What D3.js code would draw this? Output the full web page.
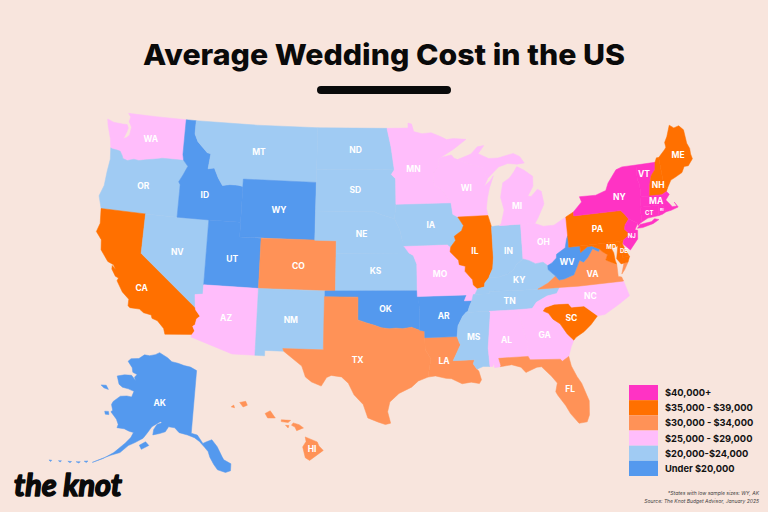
<!DOCTYPE html>
<html>
<head>
<meta charset="utf-8">
<style>
	body { margin: 0; background: #f8e5dd; }
	text { font-family: Inter, sans-serif; }
	.state-label { fill: white; font-weight: 700; text-anchor: middle; dominant-baseline: central; }
	.legend-label { fill: #111; font-weight: 700; font-size: 9.3px; dominant-baseline: central; }
	.note { fill: #444; font-style: italic; font-size: 5px; text-anchor: end; }
</style>
<script src="https://d3js.org/d3.v7.min.js"></script>
</head>
<body>
<script>
// cost tiers, highest first
const tierLabels = ["$40,000+", "$35,000 - $39,000", "$30,000 - $34,000", "$25,000 - $29,000", "$20,000-$24,000", "Under $20,000"];
const tierColors = ["#ff33c4", "#ff7000", "#ff9257", "#ffbdfb", "#a0cbf3", "#5499ee"];
const tier0 = ["NY", "VT", "MA", "CT", "RI", "NJ"];
const tier1 = ["CA", "IL", "PA", "MD", "DE", "SC", "NH", "ME"];
const tier2 = ["CO", "TX", "LA", "FL", "VA", "HI"];
const tier3 = ["WA", "AZ", "MN", "WI", "MI", "OH", "MO", "NC", "GA", "AL"];
const tier4 = ["OR", "NV", "MT", "ND", "SD", "NE", "KS", "IA", "NM", "IN", "KY", "TN", "MS"];
const tier5 = ["ID", "WY", "UT", "OK", "AR", "WV", "AK"];

// state outlines, lon/lat
const WA = [[[-117.04,49],[-120,49],[-122.76,49],[-122.5,48.75],[-122.6,48.4],[-122.3,48],[-122.4,47.4],[-122.65,47.2],[-122.95,47.1],[-122.7,47.6],[-122.6,47.9],[-122.75,48.15],[-123.2,48.15],[-124.1,48.2],[-124.72,48.38],[-124.6,47.9],[-124.2,46.95],[-124.05,46.3],[-123.9,46.25],[-123.4,46.2],[-123.1,46.15],[-122.85,45.85],[-122.75,45.65],[-122.3,45.55],[-121.7,45.7],[-121.2,45.65],[-120.6,45.75],[-119.9,45.85],[-119.3,45.93],[-119,46],[-116.92,46],[-117.04,46.42]]];
const OR = [[[-124.05,46.3],[-123.9,46.25],[-123.4,46.2],[-123.1,46.15],[-122.85,45.85],[-122.75,45.65],[-122.3,45.55],[-121.7,45.7],[-121.2,45.65],[-120.6,45.75],[-119.9,45.85],[-119.3,45.93],[-119,46],[-116.92,46],[-116.46,45.6],[-116.85,44.95],[-117.2,44.45],[-117.03,44.25],[-117.03,43.8],[-117.03,42],[-120,42],[-124.2,42],[-124.55,42.84],[-124.2,43.6],[-124.1,44.6],[-123.95,45.5]]];
const CA = [[[-124.2,42],[-120,42],[-120,39],[-114.63,35],[-114.57,34.8],[-114.14,34.3],[-114.43,34.05],[-114.52,33.55],[-114.72,33.4],[-114.52,33.03],[-114.72,32.72],[-117.12,32.53],[-117.28,33],[-117.9,33.6],[-118.4,33.75],[-118.5,34.03],[-119.2,34.15],[-119.6,34.42],[-120.47,34.45],[-120.65,34.6],[-120.65,35.15],[-121.3,35.7],[-121.9,36.6],[-121.8,36.85],[-122.1,36.97],[-122.5,37.5],[-122.5,37.78],[-122.15,37.5],[-122.4,37.85],[-122.95,38.05],[-123.7,38.9],[-123.8,39.7],[-124.35,40.3],[-124.1,41]]];
const NV = [[[-120,42],[-117.03,42],[-114.04,42],[-114.04,36.2],[-114.75,36.1],[-114.63,35],[-120,39]]];
const ID = [[[-117.04,49],[-116.05,49],[-116.05,48],[-115.7,47.45],[-114.7,46.7],[-114.35,46.65],[-114.5,45.55],[-113.9,45.65],[-113.45,44.95],[-113,44.45],[-112.3,44.55],[-111.5,44.55],[-111.05,44.48],[-111.05,42],[-114.04,42],[-117.03,42],[-117.03,43.8],[-117.03,44.25],[-117.2,44.45],[-116.85,44.95],[-116.46,45.6],[-116.92,46],[-117.04,46.42]]];
const MT = [[[-116.05,49],[-110,49],[-104.05,49],[-104.05,45],[-111.05,45],[-111.05,44.48],[-111.5,44.55],[-112.3,44.55],[-113,44.45],[-113.45,44.95],[-113.9,45.65],[-114.5,45.55],[-114.35,46.65],[-114.7,46.7],[-115.7,47.45],[-116.05,48]]];
const WY = [[[-111.05,45],[-104.05,45],[-104.05,41],[-111.05,41]]];
const UT = [[[-114.04,42],[-111.05,42],[-111.05,41],[-109.05,41],[-109.05,37],[-114.04,37]]];
const CO = [[[-109.05,41],[-102.05,41],[-102.05,37],[-109.05,37]]];
const AZ = [[[-114.04,37],[-109.05,37],[-109.05,31.33],[-111.07,31.33],[-114.8,32.5],[-114.72,32.72],[-114.52,33.03],[-114.72,33.4],[-114.52,33.55],[-114.43,34.05],[-114.14,34.3],[-114.57,34.8],[-114.63,35],[-114.75,36.1],[-114.04,36.2]]];
const NM = [[[-109.05,37],[-103,37],[-103.04,32],[-106.62,32],[-106.53,31.78],[-108.2,31.78],[-108.2,31.33],[-109.05,31.33]]];
const ND = [[[-104.05,49],[-97.23,49],[-96.85,47.6],[-96.56,45.94],[-104.05,45.94]]];
const SD = [[[-104.05,45.94],[-96.56,45.94],[-96.85,45.6],[-96.45,45.3],[-96.45,43.5],[-96.6,42.5],[-97.9,42.8],[-98.5,43],[-104.05,43]]];
const NE = [[[-104.05,43],[-98.5,43],[-97.9,42.8],[-96.6,42.5],[-96.1,41.7],[-95.9,41],[-95.3,40],[-102.05,40],[-102.05,41],[-104.05,41]]];
const KS = [[[-102.05,40],[-95.3,40],[-94.9,39.8],[-94.6,39.1],[-94.62,37],[-102.05,37]]];
const OK = [[[-103,37],[-94.62,37],[-94.43,35.4],[-94.48,33.64],[-95.2,33.9],[-96,33.8],[-96.6,33.85],[-97.2,33.8],[-97.9,33.9],[-98.5,34.1],[-99.2,34.3],[-100,34.56],[-100,36.5],[-103,36.5]]];
const TX = [[[-103.04,36.5],[-100,36.5],[-100,34.56],[-99.2,34.3],[-98.5,34.1],[-97.9,33.9],[-97.2,33.8],[-96.6,33.85],[-96,33.8],[-95.2,33.9],[-94.48,33.64],[-94.04,33.55],[-94.04,33],[-94.04,32],[-93.55,31.2],[-93.7,30.5],[-93.85,29.7],[-94.7,29.4],[-95.3,28.9],[-96.4,28.4],[-97.2,27.7],[-97.4,26.9],[-97.15,25.96],[-97.6,25.85],[-98.2,26.05],[-99.1,26.4],[-99.5,27.5],[-100.3,28.3],[-100.8,29.25],[-101.4,29.77],[-102.3,29.88],[-102.7,29.7],[-103.15,28.98],[-104,29.3],[-104.55,29.7],[-104.9,30.6],[-106.53,31.78],[-106.62,32],[-103.04,32]]];
const LA = [[[-94.04,33],[-91.17,33],[-91,32.5],[-90.9,32.3],[-91.6,31],[-89.73,31],[-89.85,30.65],[-89.55,30.2],[-89.4,30.05],[-89.2,29.3],[-89.4,29],[-90.1,29.15],[-90.9,29.05],[-91.8,29.5],[-92.3,29.55],[-93.2,29.78],[-93.85,29.7],[-93.7,30.5],[-93.55,31.2],[-94.04,32]]];
const AR = [[[-94.62,36.5],[-90.15,36.5],[-90.38,36],[-89.7,36],[-89.95,35.5],[-90.1,35.1],[-90.6,34.7],[-91.05,33.9],[-91.17,33],[-94.04,33],[-94.04,33.55],[-94.48,33.64],[-94.43,35.4]]];
const MO = [[[-95.77,40.58],[-91.73,40.61],[-91.42,40.38],[-91.5,40],[-90.75,39.3],[-90.7,38.95],[-90.15,38.8],[-90.2,38.4],[-89.55,37.7],[-89.5,37.3],[-89.13,36.98],[-89.4,36.5],[-89.55,36.5],[-89.7,36],[-90.38,36],[-90.15,36.5],[-94.62,36.5],[-94.62,37],[-94.6,39.1],[-94.9,39.8],[-95.3,40]]];
const IA = [[[-96.45,43.5],[-91.22,43.5],[-91.1,42.7],[-90.64,42.5],[-90.15,41.9],[-90.35,41.55],[-91.05,41.2],[-90.95,40.9],[-91.42,40.38],[-91.73,40.61],[-95.77,40.58],[-95.9,41],[-96.1,41.7],[-96.6,42.5]]];
const MN = [[[-97.23,49],[-95.15,49],[-95.15,49.38],[-94.8,49.3],[-94.6,48.72],[-93.8,48.55],[-92.9,48.6],[-92,48.3],[-91.4,48.05],[-90.75,48.1],[-89.5,48],[-90.8,47.3],[-92.05,46.75],[-92.3,46.65],[-92.3,46.1],[-92.85,45.6],[-92.75,44.75],[-92,44.4],[-91.22,43.5],[-96.45,43.5],[-96.45,45.3],[-96.85,45.6],[-96.56,45.94],[-96.85,47.6]]];
const WI = [[[-92.05,46.75],[-91,46.9],[-90.75,46.65],[-90.4,46.55],[-89.1,46.13],[-88.1,45.9],[-87.8,45.35],[-87.6,45.1],[-87.98,44.55],[-87.4,44.9],[-87.05,45.25],[-87.5,44.4],[-87.75,43.7],[-87.9,43],[-87.8,42.5],[-90.64,42.5],[-91.1,42.7],[-91.22,43.5],[-92,44.4],[-92.75,44.75],[-92.85,45.6],[-92.3,46.1],[-92.3,46.65]]];
const IL = [[[-90.64,42.5],[-87.8,42.5],[-87.53,41.72],[-87.53,39.35],[-87.65,38.5],[-87.95,38],[-88.05,37.8],[-88.45,37.4],[-88.5,37.1],[-89.13,36.98],[-89.5,37.3],[-89.55,37.7],[-90.2,38.4],[-90.15,38.8],[-90.7,38.95],[-90.75,39.3],[-91.5,40],[-91.42,40.38],[-90.95,40.9],[-91.05,41.2],[-90.35,41.55],[-90.15,41.9]]];
const IN = [[[-87.53,41.72],[-87.2,41.75],[-86.8,41.76],[-84.8,41.76],[-84.82,39.1],[-85.45,38.7],[-85.75,38.3],[-86.3,38],[-87.1,37.8],[-88.05,37.8],[-87.95,38],[-87.65,38.5],[-87.53,39.35]]];
const OH = [[[-84.8,41.76],[-83.45,41.73],[-82.7,41.5],[-81.7,41.5],[-80.52,41.98],[-80.52,40.64],[-80.65,40.4],[-80.85,39.7],[-81.7,39.25],[-81.75,38.95],[-82.2,38.6],[-82.6,38.42],[-83,38.72],[-83.7,38.65],[-84.3,38.95],[-84.82,39.1]]];
const KY = [[[-89.4,36.5],[-89.13,36.98],[-88.5,37.1],[-88.45,37.4],[-88.05,37.8],[-87.1,37.8],[-86.3,38],[-85.75,38.3],[-85.45,38.7],[-84.82,39.1],[-84.3,38.95],[-83.7,38.65],[-83,38.72],[-82.6,38.42],[-82.6,38.1],[-81.97,37.54],[-82.7,37.05],[-83.68,36.6],[-86,36.63],[-88.07,36.68],[-88.07,36.5]]];
const TN = [[[-89.55,36.5],[-88.07,36.5],[-88.07,36.68],[-86,36.63],[-83.68,36.6],[-81.68,36.59],[-82,36.1],[-82.9,35.95],[-83.9,35.5],[-84.32,34.99],[-85.6,34.98],[-88.2,35],[-90.3,35],[-90.1,35.1],[-89.95,35.5],[-89.7,36]]];
const MS = [[[-90.3,35],[-88.2,35],[-88.1,34.9],[-88.47,31.9],[-88.4,30.37],[-89,30.4],[-89.55,30.2],[-89.85,30.65],[-89.73,31],[-91.6,31],[-90.9,32.3],[-91,32.5],[-91.17,33],[-91.05,33.9],[-90.6,34.7]]];
const AL = [[[-88.2,35],[-85.6,34.98],[-85.18,32.87],[-85,32.3],[-85.05,31.55],[-85,31],[-87.6,31],[-87.45,30.4],[-87.5,30.3],[-88,30.25],[-88.05,30.65],[-88.15,30.35],[-88.4,30.37],[-88.47,31.9],[-88.1,34.9]]];
const GA = [[[-85.6,34.98],[-83.1,35],[-83.35,34.7],[-82.9,34.47],[-82.55,33.95],[-81.95,33.5],[-81.4,32.6],[-80.87,32.03],[-81.15,31.5],[-81.45,30.72],[-82.05,30.36],[-82.2,30.55],[-84.86,30.7],[-85,31],[-85.05,31.55],[-85,32.3],[-85.18,32.87]]];
const FL = [[[-87.6,31],[-85,31],[-84.86,30.7],[-82.2,30.55],[-82.05,30.36],[-81.45,30.72],[-81.3,29.9],[-80.9,29],[-80.55,28.4],[-80.05,26.9],[-80.15,25.75],[-80.4,25.2],[-81.1,25.15],[-81.75,26],[-82.1,26.7],[-82.7,27.6],[-82.85,27.9],[-82.65,28.6],[-83.1,29.2],[-83.9,30.05],[-84.3,30.05],[-85.3,29.68],[-85.7,30.15],[-86.5,30.4],[-87.5,30.3],[-87.45,30.4]]];
const SC = [[[-83.1,35],[-82.3,35.2],[-81.05,35.15],[-80.8,34.82],[-79.67,34.8],[-78.55,33.87],[-79.2,33.2],[-79.9,32.65],[-80.65,32.25],[-80.87,32.03],[-81.4,32.6],[-81.95,33.5],[-82.55,33.95],[-82.9,34.47],[-83.35,34.7]]];
const NC = [[[-84.32,34.99],[-83.9,35.5],[-82.9,35.95],[-82,36.1],[-81.68,36.59],[-80,36.54],[-76,36.55],[-75.87,36.55],[-75.5,35.25],[-76.5,34.65],[-77.9,33.9],[-78.55,33.87],[-79.67,34.8],[-80.8,34.82],[-81.05,35.15],[-82.3,35.2],[-83.1,35]]];
const VA = [[[-83.68,36.6],[-82.7,37.05],[-81.97,37.54],[-81.68,37.2],[-81.2,37.25],[-80.3,37.5],[-80,38],[-79.65,38.6],[-79.3,38.42],[-78.87,38.76],[-78.35,39.4],[-77.83,39.14],[-77.72,39.32],[-77.5,39.1],[-77.04,38.8],[-77.25,38.4],[-76.95,38.25],[-76.3,37.9],[-76.3,37],[-76,36.92],[-75.87,36.55],[-76,36.55],[-80,36.54],[-81.68,36.59]], [[-75.95,37.15],[-75.65,37.95],[-75.25,38.03],[-75.65,37.45]]];
const WV = [[[-82.6,38.42],[-82.2,38.6],[-81.75,38.95],[-81.7,39.25],[-80.85,39.7],[-80.65,40.4],[-80.52,40.64],[-80.52,39.72],[-79.48,39.72],[-79.48,39.2],[-78.8,39.6],[-78.4,39.62],[-77.72,39.32],[-77.83,39.14],[-78.35,39.4],[-78.87,38.76],[-79.3,38.42],[-79.65,38.6],[-80,38],[-80.3,37.5],[-81.2,37.25],[-81.68,37.2],[-81.97,37.54],[-82.6,38.1]]];
const MD = [[[-79.48,39.72],[-75.79,39.72],[-75.7,38.46],[-75.05,38.45],[-75.25,38.03],[-75.9,37.95],[-76.25,38.4],[-76,39.4],[-76.6,39.2],[-76.45,38.9],[-76.4,38.3],[-76.3,37.95],[-76.95,38.25],[-77.25,38.4],[-77.04,38.8],[-77.5,39.1],[-77.72,39.32],[-78.4,39.62],[-78.8,39.6],[-79.48,39.2]]];
const DE = [[[-75.79,39.72],[-75.42,39.8],[-75.55,39.5],[-75.4,39.1],[-75.05,38.45],[-75.7,38.46]]];
const PA = [[[-80.52,41.98],[-79.76,42.27],[-79.76,42],[-75.35,42],[-75.05,41.75],[-74.7,41.36],[-75.1,41],[-75.2,40.65],[-74.75,40.2],[-75.42,39.8],[-75.79,39.72],[-80.52,39.72]]];
const NJ = [[[-74.7,41.36],[-73.9,41],[-74.25,40.5],[-74,40.45],[-74.1,39.75],[-74.9,38.95],[-75.5,39.5],[-75.42,39.8],[-74.75,40.2],[-75.2,40.65],[-75.1,41]]];
const NY = [[[-79.76,42.27],[-78.9,42.9],[-79.05,43.27],[-77.5,43.25],[-76.5,43.5],[-76.2,44],[-75.3,44.85],[-74.7,45],[-73.35,45],[-73.4,44],[-73.25,43.6],[-73.27,42.75],[-73.5,42.05],[-73.49,41.2],[-73.65,41],[-73.9,40.8],[-73.9,41],[-74.7,41.36],[-75.05,41.75],[-75.35,42],[-79.76,42]], [[-74,40.6],[-73.7,40.88],[-72.6,40.98],[-72.3,41.15],[-71.9,41.05],[-72.5,40.8],[-73.5,40.6]]];
const VT = [[[-73.35,45],[-71.5,45],[-71.6,44.5],[-72.05,44.1],[-72.3,43.5],[-72.46,42.73],[-73.27,42.75],[-73.25,43.6],[-73.4,44]]];
const NH = [[[-71.5,45],[-71.3,45.3],[-71.08,45.3],[-70.98,43.4],[-70.7,43.07],[-70.82,42.87],[-71.3,42.7],[-72.46,42.73],[-72.3,43.5],[-72.05,44.1],[-71.6,44.5]]];
const ME = [[[-71.08,45.3],[-70.4,45.8],[-70.25,45.95],[-70.3,46.3],[-70,46.7],[-69.6,47.5],[-69.2,47.25],[-68.7,47.35],[-68.3,47],[-68.2,46],[-68,45.6],[-68,45.2],[-67.9,44.85],[-68.4,44.4],[-68.8,44.4],[-69.1,44],[-69.8,43.75],[-70.25,43.6],[-70.7,43.07],[-70.98,43.4]]];
const MA = [[[-73.5,42.05],[-73.27,42.75],[-72.46,42.73],[-71.3,42.7],[-70.82,42.87],[-70.6,42.65],[-71,42.3],[-70.65,41.95],[-70.5,41.78],[-70.05,41.78],[-70.25,42.07],[-69.95,41.7],[-70.65,41.55],[-71.13,41.5],[-71.38,42.02],[-71.8,42.02]]];
const CT = [[[-73.5,42.05],[-71.8,42.02],[-71.85,41.32],[-72.9,41.25],[-73.65,41],[-73.49,41.2]]];
const RI = [[[-71.8,42.02],[-71.38,42.02],[-71.13,41.5],[-71.5,41.37],[-71.85,41.32]]];
const MI = [[[-86.8,41.76],[-84.8,41.76],[-83.45,41.73],[-83.15,42.05],[-82.45,43],[-82.6,43.9],[-82.95,44.07],[-83.6,43.6],[-83.9,43.65],[-83.35,44.3],[-83.3,45],[-84.1,45.5],[-84.75,45.78],[-85.1,45.4],[-85.55,45],[-86.2,44.7],[-86.5,43.7],[-86.25,42.8],[-86.6,41.9]], [[-90.4,46.55],[-89.1,46.9],[-88.45,47.4],[-87.8,47.47],[-88.4,46.9],[-87.4,46.5],[-86.5,46.5],[-85,46.75],[-84.4,46.5],[-84,46],[-84.7,45.95],[-85.6,46.05],[-86.5,45.85],[-87.6,45.1],[-87.8,45.35],[-88.1,45.9],[-89.1,46.13]]];
const AK = [[[-141,69.65],[-143.5,70.1],[-146,70.2],[-148.5,70.4],[-151,70.45],[-153,70.9],[-156.6,71.35],[-158,70.85],[-160,70.4],[-162,70.25],[-163.5,69.4],[-166.2,68.9],[-166.8,68.35],[-164.5,67.7],[-163.7,67.1],[-162,67],[-162.5,66.5],[-161.8,66.1],[-163.7,66.6],[-166,66.25],[-168.1,65.65],[-166.4,64.65],[-165,64.45],[-163,64.55],[-161,64.5],[-161.1,63.6],[-162.6,63.5],[-164.5,63.1],[-165.9,62],[-166,61.5],[-165,60.8],[-165.3,60.5],[-163,59.8],[-162,59.2],[-162,58.7],[-160,58.9],[-158.5,58.8],[-157.2,58.8],[-157.5,58],[-158.5,57],[-160.5,55.2],[-162.5,53.9],[-164.6,52.8],[-163,53.7],[-161,54.7],[-159,55.5],[-157.5,56.8],[-156,57.5],[-154.2,58.4],[-153.5,59.2],[-152.6,60.3],[-150.5,61.3],[-149.9,61.2],[-151.3,60.8],[-151.9,60],[-151.8,59.2],[-150,59.6],[-148.5,60],[-147.8,60.8],[-146,60.8],[-144.5,60.2],[-142,60],[-140,59.7],[-138.5,59.2],[-137,58.4],[-136,57.8],[-135.5,57],[-134.5,56],[-133.5,55.2],[-131.5,54.8],[-130.2,55],[-130,56],[-131.8,56.6],[-132.2,57],[-133.5,58.5],[-135,59.5],[-136.5,59.2],[-137.5,58.95],[-139.2,60.1],[-141,60.3]],
	[[-153.3,58],[-152.2,57.6],[-153.9,56.8],[-154.7,57.3]], [[-171.5,63.4],[-170,63.7],[-168.8,63.3],[-170.3,63.2]], [[-167,60.2],[-166,60.4],[-165.5,60],[-166.5,59.85]],
	[[-166.5,52.5],[-165.7,52.75],[-165.9,52.45]], [[-168.2,51.95],[-167.3,52.2],[-167.5,51.95]], [[-170,51.5],[-169.2,51.7],[-169.4,51.45]], [[-172,50.95],[-171.4,51.15],[-171.5,50.9]], [[-174,50.4],[-173.4,50.55],[-173.5,50.3]]];
const HI = [[[-155.9,20.25],[-155.2,19.97],[-155.1,19.75],[-154.85,19.5],[-155.65,18.95],[-155.9,19.1],[-156.05,19.7],[-155.85,20]], [[-156.7,20.9],[-156.6,21.03],[-156.25,20.93],[-156,20.75],[-156.4,20.6],[-156.5,20.8]], [[-158.25,21.55],[-157.95,21.7],[-157.65,21.3],[-158.1,21.3]], [[-157.3,21.2],[-156.75,21.17],[-156.9,21.05],[-157.3,21.1]], [[-157.05,20.9],[-156.85,20.88],[-156.9,20.75]], [[-159.75,22.15],[-159.4,22.22],[-159.3,22],[-159.55,21.9]], [[-160.25,21.9],[-160.1,22],[-160.05,21.85]]];

const shapes = {WA, OR, CA, NV, ID, MT, WY, UT, CO, AZ, NM, ND, SD, NE, KS, OK, TX, LA, AR, MO, IA, MN, WI, IL, IN, OH, KY, TN, MS, AL, GA, FL, SC, NC, VA, WV, MD, DE, PA, NJ, NY, VT, NH, ME, MA, CT, RI, MI, AK, HI};

// where each abbreviation sits, lon/lat
const labelSpots = {WA:[-120.3,47.3], OR:[-120.5,43.9], CA:[-119.6,36.2], NV:[-116.7,39.4], ID:[-114.6,43.7], MT:[-109.7,47], WY:[-107.5,43], UT:[-111.6,39.2], CO:[-105.5,38.9], AZ:[-111.8,34.3], NM:[-106,34.4], ND:[-100.3,47.4], SD:[-100.3,44.5], NE:[-99.7,41.5], KS:[-98.4,38.6], OK:[-97.5,35.5], TX:[-100,31.2], LA:[-92.4,31], AR:[-92.3,34.8], MO:[-92.5,38.3], IA:[-93.2,42], MN:[-94.7,46], WI:[-89.7,44.5], IL:[-89.2,40], IN:[-86.1,39.8], OH:[-82.8,40.3], KY:[-85.3,37.5], TN:[-86.3,35.8], MS:[-89.7,32.9], AL:[-86.8,32.5], GA:[-83.4,32.7], FL:[-81.6,28], SC:[-80.9,33.9], NC:[-79,35.6], VA:[-78.6,37.4], WV:[-80.8,38.6], MD:[-76.6,39.45], DE:[-75.5,38.95], PA:[-77.7,40.9], NJ:[-74.6,40.1], NY:[-75.3,42.9], VT:[-72.7,44.3], NH:[-71.5,43.4], ME:[-69.2,45.3], MA:[-71.9,42.35], CT:[-72.7,41.6], RI:[-71.5,41.7], MI:[-85,43], AK:[-152,64], HI:[-155.5,19.6]};
const smallLabels = ["MD", "DE", "NJ", "CT"];
const tinyLabels = ["RI"];

const titleText = "Average Wedding Cost in the US";
const noteLines = ["*States with low sample sizes: WY, AK", "Source: The Knot Budget Advisor, January 2025"];

var width = 768, height = 512;
var svg = d3.select("body").append("svg").attr("width", width).attr("height", height);
svg.append("rect").attr("width", width).attr("height", height).attr("fill", "#f8e5dd");

var color = {};
[tier0, tier1, tier2, tier3, tier4, tier5].forEach(function(t, i) {
	t.forEach(function(s) { color[s] = tierColors[i]; });
});

// low parallels: the source map's meridians lean much less than plain albers
var lower48 = d3.geoConicEqualArea().parallels([6, 30]).rotate([99, 0]).center([0, 39]).scale(760).translate([369, 266]);
// the source stretches the north and squeezes the south
var latWarp = d3.scaleLinear().domain([25.85, 37, 41, 49]).range([26.85, 37, 41, 50.6]);
var alaska = d3.geoConicEqualArea().parallels([40, 60]).rotate([134.5, 0]).center([0, 65]).scale(398).translate([213.6, 402]);
var hawaii = d3.geoConicEqualArea().parallels([8, 18]).rotate([157, 0]).center([-3, 19.9]).scale(1040).translate([235, 443]);

function project(state, p) {
	if (state == "AK") return alaska(p);
	if (state == "HI") return hawaii(p);
	return lower48([p[0], latWarp(p[1])]);
}
var line = d3.line();

svg.append("g").selectAll("path")
	.data(Object.keys(shapes))
	.enter()
	.append("path")
	.attr("d", function(s) {
		return shapes[s].map(function(ring) {
			return line(ring.map(function(p) { return project(s, p); })) + "Z";
		}).join("");
	})
	.attr("fill", function(s) { return color[s]; })
	.attr("stroke", function(s) { return color[s]; })
	.attr("stroke-width", 0.5)
	.attr("stroke-linejoin", "round");

svg.append("g").selectAll("text")
	.data(Object.keys(labelSpots))
	.enter()
	.append("text")
	.attr("class", "state-label")
	.attr("x", function(s) { return project(s, labelSpots[s])[0]; })
	.attr("y", function(s) { return project(s, labelSpots[s])[1]; })
	.attr("font-size", function(s) { return tinyLabels.includes(s) ? 4 : smallLabels.includes(s) ? 6 : 8.5; })
	.text(function(s) { return s; });

// title and rule
svg.append("text")
	.attr("x", 384).attr("y", 65)
	.attr("text-anchor", "middle")
	.attr("font-size", 29).attr("font-weight", 800)
	.attr("textLength", 482).attr("lengthAdjust", "spacingAndGlyphs")
	.attr("fill", "#0a0a0a")
	.text(titleText);
svg.append("rect").attr("x", 317).attr("y", 86).attr("width", 134).attr("height", 8).attr("rx", 4).attr("fill", "#0a0a0a");

// legend
var band = d3.scaleBand().domain(tierLabels).range([385, 476]);
var legend = svg.append("g").selectAll("g").data(tierLabels).enter().append("g");
legend.append("rect")
	.attr("x", 629).attr("width", 29)
	.attr("y", function(d) { return band(d); })
	.attr("height", band.bandwidth())
	.attr("fill", function(d, i) { return tierColors[i]; });
legend.append("text")
	.attr("class", "legend-label")
	.attr("x", 665)
	.attr("y", function(d) { return band(d) + band.bandwidth() / 2; })
	.text(function(d) { return d; });

svg.append("g").selectAll("text").data(noteLines).enter().append("text")
	.attr("class", "note")
	.attr("x", 759)
	.attr("y", function(d, i) { return 494.5 + i * 8; })
	.text(function(d) { return d; });

// logo
svg.append("text")
	.attr("x", 14).attr("y", 496)
	.attr("font-size", 31).attr("font-weight", 700).attr("font-style", "italic")
	.attr("textLength", 108).attr("lengthAdjust", "spacingAndGlyphs")
	.attr("stroke", "#0a0a0a").attr("stroke-width", 1.6).attr("stroke-linejoin", "round")
	.attr("fill", "#0a0a0a")
	.style("font-family", "Lato, sans-serif")
	.text("the knot");
</script>
</body>
</html>
